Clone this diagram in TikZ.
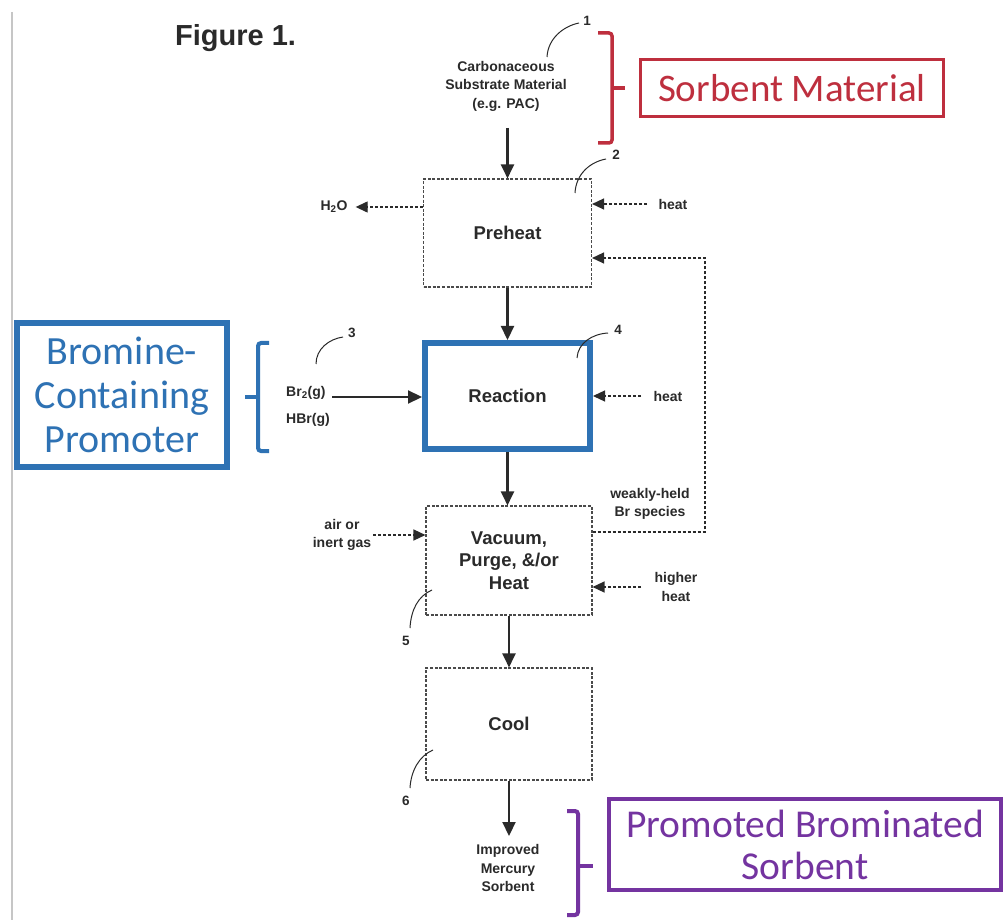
\documentclass[tikz,border=0pt]{standalone}
\usepackage{fontspec}
\setmainfont{Liberation Sans}
\newfontfamily\calfont{Carlito}
\usetikzlibrary{arrows.meta}
\definecolor{ink}{HTML}{2A2A2A}
\definecolor{redc}{HTML}{BE2F3E}
\definecolor{bluec}{HTML}{2E72B4}
\definecolor{purc}{HTML}{7434A0}
\begin{document}
\begin{tikzpicture}[x=1pt,y=-1pt,
  lab/.style={font=\fontsize{14}{18.5}\selectfont\bfseries, text=ink, align=center, inner sep=0pt},
  num/.style={font=\fontsize{13.5}{13.5}\selectfont\bfseries, text=ink, inner sep=0pt},
  procbox/.style={draw=ink!85, dash pattern=on 3pt off 1.6pt, line width=1.1pt, inner sep=0pt,
     font=\fontsize{18.5}{22.5}\selectfont\bfseries, text=ink, align=center},
  rbox/.style={draw=bluec, line width=6pt, inner sep=0pt, font=\fontsize{18.5}{22}\selectfont\bfseries, text=ink, align=center},
  callbox/.style={line width=#1, inner sep=0pt, align=center},
  solidarr/.style={draw=ink, line width=2.2pt, -{Triangle[length=14pt,width=13pt]}},
  dasharr/.style={draw=ink, line width=1.3pt, dash pattern=on 3pt off 2pt, -{Triangle[length=12pt,width=11pt]}},
  leader/.style={draw=ink, line width=1pt},
  brack/.style={line width=#1, rounded corners=3pt}
]
\useasboundingbox (0,0) rectangle (1005,920);
\fill[white] (0,0) rectangle (1005,920);
\draw[gray!45, line width=2pt] (12,12) -- (12,920);

\node[anchor=west, inner sep=0pt, font=\fontsize{29}{29}\selectfont\bfseries, text=ink] (title) at (175,38) {Figure 1.};

% substrate and preheat
\node[lab] (sub) at (506,86) {Carbonaceous\\Substrate Material\\(e.g. PAC)};
\node[num] (n1) at (587,21) {1};
\draw[leader] (547,57) .. controls (548,38) and (564,26) .. (579,23);
\node[procbox, minimum width=168pt, minimum height=108pt] (pre) at (507.5,233) {Preheat};
\coordinate (subout) at (507.5,128);
\draw[solidarr] (subout) -- (pre.north);
\node[num] (n2) at (616,155) {2};
\draw[leader] (575,193) .. controls (576,174) and (590,162) .. (606,159);
\node[lab] (h2o) at (334,207) {H\textsubscript{2}O};
\draw[dasharr] (pre.west |- h2o) -- ([xshift=8pt]h2o.east);
\node[lab] (heat1) at (673,204) {heat};
\coordinate (heat1s) at (647,204);
\draw[dasharr] (heat1s) -- (pre.east |- heat1s);

% sorbent material callout
\draw[redc, brack=3.5pt] (598,33) -- (612,33) -- (612,143) -- (598,143);
\draw[redc, line width=3.5pt] (612,88) -- (625,88);
\node[callbox=3pt, draw=redc, text=redc, minimum width=303pt, minimum height=57pt,
  font=\calfont\fontsize{39}{44}\selectfont] (sorb) at (792,88) {Sorbent Material};

% reaction
\node[rbox, minimum width=165pt, minimum height=106pt] (rea) at (507.5,396) {Reaction};
\draw[solidarr] (pre.south) -- (pre.south |- rea.north);
\node[num] (n4) at (618,330) {4};
\draw[leader] (577,358) .. controls (578,343) and (592,334) .. (608,333);
\node[lab, anchor=west] (br2) at (286,393) {Br\textsubscript{2}(g)};
\node[lab, anchor=west] (hbr) at (286,420) {HBr(g)};
\coordinate (bra) at (332,397);
\draw[solidarr] (bra) -- (rea.west |- bra);
\node[num] (n3) at (352,333) {3};
\draw[leader] (316,364) .. controls (316,349) and (329,339) .. (343,337);
\node[lab] (heat2) at (668,396) {heat};
\coordinate (heat2s) at (641,396);
\draw[dasharr] (heat2s) -- (rea.east |- heat2s);

% bromine callout
\draw[bluec, brack=4pt] (269,343) -- (258,343) -- (258,451) -- (269,451);
\draw[bluec, line width=4pt] (245,397) -- (258,397);
\node[callbox=6pt, draw=bluec, text=bluec, minimum width=210pt, minimum height=144pt,
  font=\calfont\fontsize{40}{44}\selectfont] (brom) at (122,395) {Bromine-\\Containing\\Promoter};

% vacuum
\node[procbox, minimum width=166pt, minimum height=109pt] (vac) at (509,560.5) {Vacuum,\\Purge, \&/or\\Heat};
\draw[solidarr] (rea.south) -- (rea.south |- vac.north);
\node[lab] (air) at (342,535) {air or\\inert gas};
\coordinate (airs) at (373,535);
\draw[dasharr] (airs) -- (vac.west |- airs);
\node[lab] (weak) at (650,504) {weakly-held\\Br species};
\coordinate (fbA) at (705,532);
\coordinate (fbB) at (705,258);
\draw[dasharr] (vac.east |- fbA) -- (fbA) -- (fbB) -- (pre.east |- fbB);
\node[lab] (hh) at (676,587) {higher\\heat};
\coordinate (hhs) at (641,587);
\draw[dasharr] (hhs) -- (vac.east |- hhs);
\node[num] (n5) at (406,641) {5};
\draw[leader] (432,590) .. controls (418,596) and (411,610) .. (410,628);

% cool
\node[procbox, minimum width=166pt, minimum height=112pt] (cool) at (509,724) {Cool};
\draw[solidarr] (vac.south) -- (vac.south |- cool.north);
\node[num] (n6) at (406,801) {6};
\draw[leader] (433,750) .. controls (419,756) and (411,771) .. (410,788);

% product
\node[lab] (imp) at (508,868) {Improved\\Mercury\\Sorbent};
\coordinate (impin) at (508,836);
\draw[solidarr] (cool.south) -- (cool.south |- impin);

% promoted callout
\draw[purc, brack=4pt] (567,811) -- (578,811) -- (578,915) -- (567,915);
\draw[purc, line width=4pt] (578,866) -- (593,866);
\node[callbox=4pt, draw=purc, text=purc, minimum width=392pt, minimum height=91pt,
  font=\calfont\fontsize{39.5}{42}\selectfont] (prom) at (805,844.5) {Promoted Brominated\\Sorbent};
\end{tikzpicture}
\end{document}
